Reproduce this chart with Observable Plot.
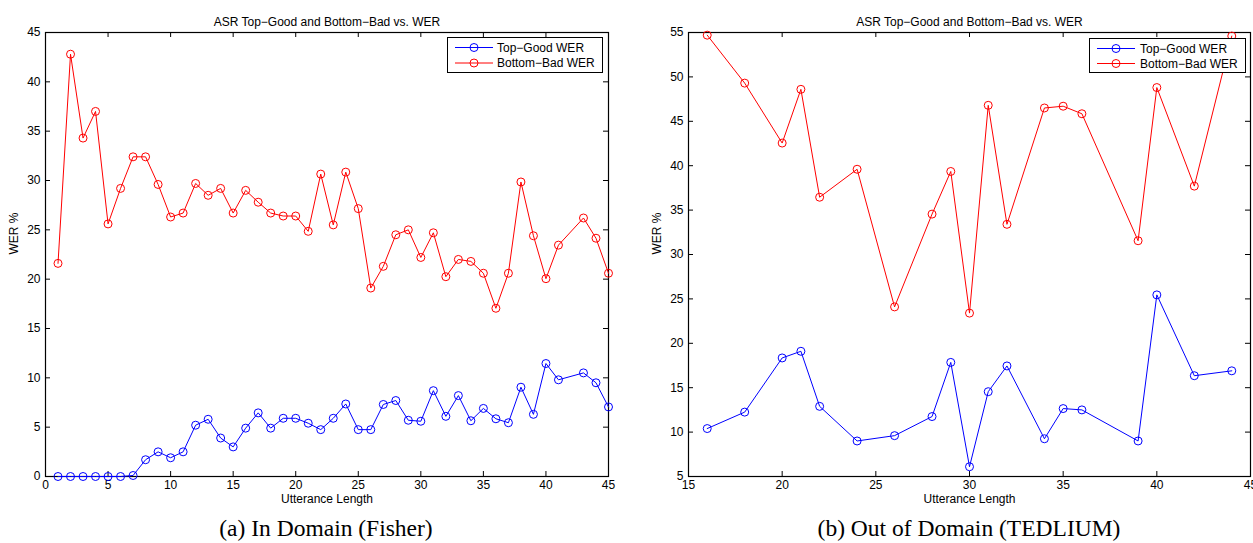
<!DOCTYPE html>
<html>
<head>
<meta charset="utf-8">
<script src="https://cdn.jsdelivr.net/npm/d3@7"></script>
<script src="https://cdn.jsdelivr.net/npm/@observablehq/plot@0.6"></script>
<style>
  body { margin: 0; background: #fff; }
  #wrap { position: relative; width: 1253px; height: 543px; overflow: hidden; background: #fff; }
  .panel { position: absolute; top: 0; }
  .caption { position: absolute; top: 517px; font-family: "Liberation Serif", "Times New Roman", serif; font-size: 23.5px; line-height: 23.5px; transform: translateX(-50%); white-space: nowrap; color: #000; }
  .legend { position: absolute; border: 1px solid #000; background: #fff; box-sizing: border-box; }
</style>
</head>
<body>
<div id="wrap"></div>
<script>
// ---- data ----
const chartTitle = "ASR Top\u2212Good and Bottom\u2212Bad vs. WER";
const xLabel = "Utterance Length";
const yLabel = "WER %";
const seriesNames = ["Top\u2212Good WER", "Bottom\u2212Bad WER"];
const seriesColors = ["#0000ff", "#ff0000"];
const captions = ["(a) In Domain (Fisher)", "(b) Out of Domain (TEDLIUM)"];

// (a) In Domain (Fisher)
const fisherLength = [1,2,3,4,5,6,7,8,9,10,11,12,13,14,15,16,17,18,19,20,21,22,23,24,25,26,27,28,29,30,31,32,33,34,35,36,37,38,39,40,41,43,44,45];
const fisherGood = [0,0,0,0,0,0,0.1,1.7,2.5,1.9,2.5,5.2,5.8,3.9,3.0,4.9,6.45,4.9,5.9,5.9,5.4,4.75,5.9,7.35,4.75,4.75,7.3,7.7,5.7,5.6,8.7,6.1,8.2,5.65,6.9,5.85,5.45,9.05,6.3,11.45,9.8,10.5,9.5,7.05];
const fisherBad = [21.6,42.8,34.3,37.0,25.6,29.2,32.4,32.4,29.6,26.3,26.7,29.7,28.5,29.2,26.7,29.0,27.8,26.7,26.4,26.4,24.85,30.65,25.5,30.85,27.15,19.1,21.3,24.5,25.0,22.2,24.7,20.25,22.0,21.8,20.6,17.05,20.6,29.85,24.4,20.05,23.45,26.2,24.15,20.6];
const fisherXTicks = [0,5,10,15,20,25,30,35,40,45];
const fisherYTicks = [0,5,10,15,20,25,30,35,40,45];

// (b) Out of Domain (TEDLIUM)
const tedLength = [16,18,20,21,22,24,26,28,29,30,31,32,34,35,36,39,40,42,44];
const tedGood = [10.4,12.25,18.35,19.1,12.9,9.0,9.6,11.75,17.85,6.1,14.55,17.45,9.25,12.65,12.5,9.0,25.45,16.35,16.9];
const tedBad = [54.7,49.3,42.55,48.6,36.45,39.6,24.1,34.55,39.35,23.4,46.8,33.4,46.5,46.7,45.85,31.55,48.8,37.7,54.6];
const tedXTicks = [15,20,25,30,35,40,45];
const tedYTicks = [5,10,15,20,25,30,35,40,45,50,55];

// ---- drawing ----
const wrap = document.getElementById("wrap");
const FONT = "'Liberation Sans', Arial, Helvetica, sans-serif";

function panel({xs, good, bad, xTicks, yTicks, left, width, height, mL, mR, mT, mB}) {
  const rows = [];
  xs.forEach((x, i) => rows.push({x, y: good[i], s: seriesNames[0]}));
  xs.forEach((x, i) => rows.push({x, y: bad[i], s: seriesNames[1]}));
  const innerW = width - mL - mR;
  const innerH = height - mT - mB;
  const xDom = [xTicks[0], xTicks[xTicks.length - 1]];
  const yDom = [yTicks[0], yTicks[yTicks.length - 1]];
  const svg = Plot.plot({
    width, height,
    marginLeft: mL, marginRight: mR, marginTop: mT, marginBottom: mB,
    style: {fontFamily: FONT, fontSize: "12px", background: "#fff", color: "#000", overflow: "visible"},
    x: {domain: xDom, ticks: xTicks, tickSize: 0, tickPadding: 4, label: null, tickFormat: d => String(d)},
    y: {domain: yDom, ticks: yTicks, tickSize: 0, tickPadding: 5, label: null, tickFormat: d => String(d)},
    color: {domain: seriesNames, range: seriesColors},
    marks: [
      Plot.frame({stroke: "#000", strokeWidth: 1.2}),
      Plot.ruleX(xTicks, {x: d => d, insetTop: innerH - 5, stroke: "#000"}),
      Plot.ruleX(xTicks, {x: d => d, insetBottom: innerH - 5, stroke: "#000"}),
      Plot.ruleY(yTicks, {y: d => d, insetRight: innerW - 5, stroke: "#000"}),
      Plot.ruleY(yTicks, {y: d => d, insetLeft: innerW - 5, stroke: "#000"}),
      Plot.line(rows, {x: "x", y: "y", z: "s", stroke: "s", strokeWidth: 1}),
      Plot.dot(rows, {x: "x", y: "y", stroke: "s", r: 4, fill: "none", strokeWidth: 1}),
      Plot.text([chartTitle], {text: d => d, frameAnchor: "top", dy: -15, fontSize: 12, fill: "#000"}),
      Plot.text([xLabel], {text: d => d, frameAnchor: "bottom", dy: 26, fontSize: 12, fill: "#000"}),
      Plot.text([yLabel], {text: d => d, frameAnchor: "left", dx: -31, rotate: -90, fontSize: 12, fill: "#000"})
    ]
  });
  svg.classList.add("panel");
  svg.style.left = left + "px";
  wrap.appendChild(svg);
}

function legend({left, top, width, height, rowY, lineX0, lineX1, textX}) {
  const div = document.createElement("div");
  div.className = "legend";
  Object.assign(div.style, {left: left + "px", top: top + "px", width: width + "px", height: height + "px"});
  const s = d3.create("svg").attr("width", width - 2).attr("height", height - 2)
    .style("display", "block").style("font-family", FONT).style("font-size", "12px");
  seriesNames.forEach((name, i) => {
    const y = rowY[i];
    s.append("line").attr("x1", lineX0).attr("x2", lineX1).attr("y1", y).attr("y2", y)
      .attr("stroke", seriesColors[i]).attr("stroke-width", 1);
    s.append("circle").attr("cx", (lineX0 + lineX1) / 2).attr("cy", y).attr("r", 4)
      .attr("fill", "none").attr("stroke", seriesColors[i]);
    s.append("text").attr("x", textX).attr("y", y).attr("dy", "0.35em").attr("fill", "#000").text(name);
  });
  div.appendChild(s.node());
  wrap.appendChild(div);
}

panel({xs: fisherLength, good: fisherGood, bad: fisherBad, xTicks: fisherXTicks, yTicks: fisherYTicks,
       left: 0, width: 626, height: 512, mL: 45, mR: 18, mT: 32, mB: 36});
panel({xs: tedLength, good: tedGood, bad: tedBad, xTicks: tedXTicks, yTicks: tedYTicks,
       left: 626, width: 627, height: 512, mL: 62, mR: 3, mT: 32, mB: 36});

legend({left: 447, top: 37, width: 156, height: 36, rowY: [9.5, 25], lineX0: 7, lineX1: 45, textX: 49});
legend({left: 1089, top: 38, width: 157, height: 35, rowY: [9.5, 24.5], lineX0: 7, lineX1: 45, textX: 50});

captions.forEach((c, i) => {
  const d = document.createElement("div");
  d.className = "caption";
  d.style.left = (i === 0 ? 326 : 969) + "px";
  d.textContent = c;
  wrap.appendChild(d);
});
</script>
</body>
</html>
